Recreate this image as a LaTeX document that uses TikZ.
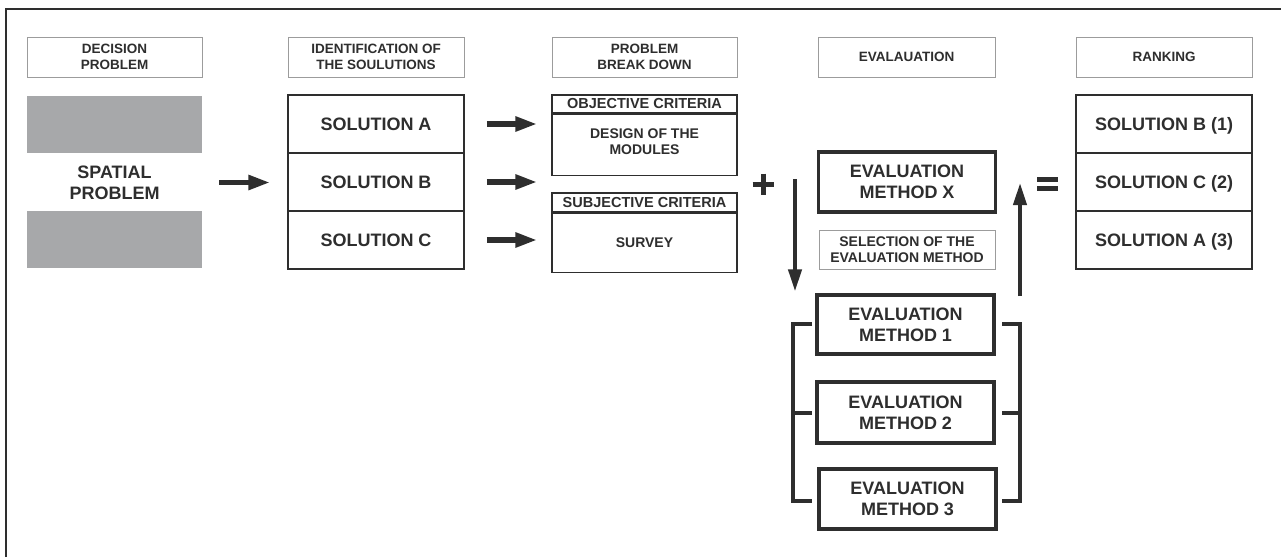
\documentclass[tikz,border=0pt]{standalone}
\usepackage{fontspec}
\setmainfont{Liberation Sans}
\usetikzlibrary{arrows.meta,calc}
\definecolor{ink}{HTML}{2E2E2E}
\definecolor{graybox}{HTML}{A7A8AA}
\definecolor{thinline}{HTML}{9C9C9C}
\begin{document}
\begin{tikzpicture}[x=1pt,y=-1pt,
  every node/.style={text=ink, inner sep=0pt, align=center},
  hdr/.style={draw=thinline, line width=0.9pt, minimum width=#1, minimum height=40pt, font=\bfseries\fontsize{13.5}{15.5}\selectfont},
  rowbox/.style={draw=ink, line width=1.5pt, minimum width=176pt, minimum height=58pt, text depth=0pt, font=\bfseries\fontsize{18}{21}\selectfont},
  crithead/.style={draw=ink, line width=1.4pt, minimum width=185pt, minimum height=#1, font=\bfseries\fontsize{14.5}{16}\selectfont},
  critbody/.style={draw=ink, line width=1.4pt, minimum width=185pt, minimum height=#1, font=\bfseries\fontsize{14}{16}\selectfont},
  evalbox/.style={draw=ink, line width=3.2pt, minimum width=177pt, minimum height=#1, font=\bfseries\fontsize{18}{21}\selectfont},
  selbox/.style={draw=thinline, line width=0.9pt, minimum width=176pt, minimum height=39pt, font=\bfseries\fontsize{14}{16}\selectfont},
  fatarrow/.style={draw=ink, line width=5.5pt, -{Triangle[length=22pt,width=14pt]}},
  vertarrow/.style={draw=ink, line width=4pt, -{Triangle[length=22pt,width=13pt]}},
  bracketline/.style={draw=ink, line width=4pt, line join=miter},
  symbolline/.style={draw=ink, line width=5pt}
]
\useasboundingbox (0,0) rectangle (1281,557);
\fill[white] (0,0) rectangle (1281,557);
% frame
\draw[ink, line width=1.5pt] (6,557) -- (6,9) -- (1281,9);

% headers
\node[hdr=175pt] (h1) at (114.5,57) {DECISION\\PROBLEM};
\node[hdr=176pt] (h2) at (376,57) {IDENTIFICATION OF\\THE SOULUTIONS};
\node[hdr=185pt] (h3) at (644.5,57) {PROBLEM\\BREAK DOWN};
\node[hdr=177pt] (h4) at (906.5,57) {EVALAUATION};
\node[hdr=176pt] (h5) at (1164,57) {RANKING};

% spatial problem
\fill[graybox] (27,96) rectangle (202,153);
\fill[graybox] (27,211) rectangle (202,268);
\node[minimum width=175pt, minimum height=172pt, font=\bfseries\fontsize{18}{21}\selectfont] (spatial) at (114.5,182.5) {SPATIAL\\PROBLEM};

% solutions
\node[rowbox] (solA) at (376,124) {SOLUTION A};
\node[rowbox] (solB) at (376,182) {SOLUTION B};
\node[rowbox] (solC) at (376,240) {SOLUTION C};

% criteria
\node[crithead=18pt] (obh) at (644.5,104) {OBJECTIVE CRITERIA};
\node[critbody=61pt, anchor=north] (obb) at (obh.south) {};
\node[font=\bfseries\fontsize{14}{16}\selectfont] (obt) at ($(obb.center)+(0,-3)$) {DESIGN OF THE\\MODULES};
\node[crithead=19pt] (sbh) at (644.5,202.5) {SUBJECTIVE CRITERIA};
\node[critbody=59pt, anchor=north] (sbb) at (sbh.south) {SURVEY};

% evaluation
\node[evalbox=60pt] (emx) at (907,182) {EVALUATION\\METHOD X};
\node[selbox] (sel) at (907,249.5) {SELECTION OF THE\\EVALUATION METHOD};
\node[evalbox=59pt] (em1) at (905.5,324.5) {EVALUATION\\METHOD 1};
\node[evalbox=61pt] (em2) at (905.5,412.5) {EVALUATION\\METHOD 2};
\node[evalbox=60pt] (em3) at (907.5,499) {EVALUATION\\METHOD 3};

% ranking
\node[rowbox] (rB) at (1164,124) {SOLUTION B (1)};
\node[rowbox] (rC) at (1164,182) {SOLUTION C (2)};
\node[rowbox] (rA) at (1164,240) {SOLUTION A (3)};

% arrows
\draw[fatarrow, shorten <=17pt, shorten >=17pt] (spatial.east) -- (spatial.east -| solB.west);
\draw[fatarrow, shorten <=22pt, shorten >=14pt] (solA.east) -- (solA.east -| obb.west);
\draw[fatarrow, shorten <=22pt, shorten >=14pt] (solB.east) -- (solB.east -| obb.west);
\draw[fatarrow, shorten <=22pt, shorten >=14pt] (solC.east) -- (solC.east -| sbb.west);

\coordinate (dtop) at (795,179);
\draw[vertarrow, shorten >=2pt] (dtop) -- (dtop |- em1.north);
\coordinate (ubot) at (1020,296);
\coordinate (utop) at (1020,183);
\draw[vertarrow] (ubot) -- (utop);

% brackets
\draw[bracketline] (812,324) -- (793,324) -- (793,501) -- (812,501);
\draw[bracketline] (793,413) -- (812,413);
\draw[bracketline] (1002,324) -- (1020,324) -- (1020,501) -- (1002,501);
\draw[bracketline] (1020,413) -- (1002,413);

% plus and equals
\draw[symbolline] (752.5,184) -- (773.5,184);
\draw[symbolline] (763,173.5) -- (763,194.5);
\draw[symbolline] (1037,179.5) -- (1058,179.5);
\draw[symbolline] (1037,188.5) -- (1058,188.5);
\end{tikzpicture}
\end{document}
